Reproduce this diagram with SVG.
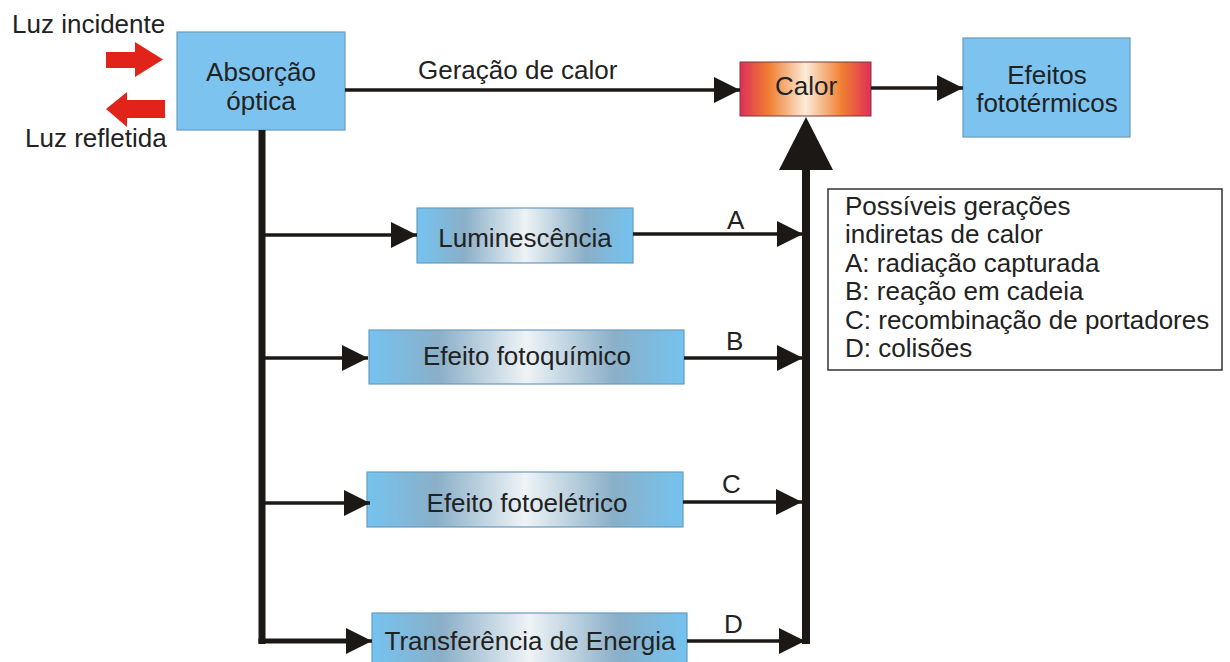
<svg xmlns="http://www.w3.org/2000/svg" width="1230" height="662" viewBox="0 0 1230 662">
<defs>
<style>
text{font-family:"Liberation Sans",Arial,sans-serif;font-size:26px;fill:#222}
.c{text-anchor:middle}
.solid{fill:#7CC4EF;stroke:#6a9cbc;stroke-width:1.2}
.metal{fill:url(#metal);stroke:#6a9cbc;stroke-width:1.2}
.ln{stroke:#1c1816;stroke-width:3.5;fill:none}
.red{fill:#E2231A}
</style>
<linearGradient id="metal" x1="0" y1="0" x2="1" y2="0">
<stop offset="0" stop-color="#74C3F0"/>
<stop offset="0.22" stop-color="#8AAFC8"/>
<stop offset="0.5" stop-color="#EEF3F6"/>
<stop offset="0.78" stop-color="#8AAFC8"/>
<stop offset="1" stop-color="#74C3F0"/>
</linearGradient>
<linearGradient id="heat" x1="0" y1="0" x2="1" y2="0">
<stop offset="0" stop-color="#E02E5A"/>
<stop offset="0.22" stop-color="#F07E30"/>
<stop offset="0.5" stop-color="#FCEBD8"/>
<stop offset="0.78" stop-color="#F07E30"/>
<stop offset="1" stop-color="#E02E5A"/>
</linearGradient>
<marker id="ah" markerUnits="userSpaceOnUse" markerWidth="27" markerHeight="26" refX="26" refY="13" orient="auto">
<path d="M0,0 L26,13 L0,26 Z" fill="#1c1816"/>
</marker>
</defs>

<g id="light-in">
<polygon class="red" points="106,52 135,52 135,42 163,59.5 135,77 135,68 106,68"/>
<text x="12" y="33">Luz incidente</text>
</g>
<g id="light-out">
<polygon class="red" points="106,109 127,92 127,100 165,100 165,118 127,118 127,127"/>
<text x="25" y="147">Luz refletida</text>
</g>

<g id="absorcao">
<rect class="solid" x="177" y="32" width="168" height="98"/>
<text class="c" x="261" y="81">Absorção</text>
<text class="c" x="261" y="110">óptica</text>
</g>

<g id="calor">
<rect x="740" y="62" width="131" height="54" fill="url(#heat)" stroke="#7a3a3a" stroke-width="1"/>
<text class="c" x="806" y="95">Calor</text>
</g>

<g id="efeitos">
<rect class="solid" x="963" y="38" width="167" height="99"/>
<text class="c" x="1047" y="84">Efeitos</text>
<text class="c" x="1047" y="112">fototérmicos</text>
</g>

<g id="luminescencia">
<rect class="metal" x="417" y="208" width="216" height="55"/>
<text class="c" x="525" y="247">Luminescência</text>
</g>
<g id="fotoquimico">
<rect class="metal" x="369" y="330" width="315" height="54"/>
<text class="c" x="527" y="365">Efeito fotoquímico</text>
</g>
<g id="fotoeletrico">
<rect class="metal" x="367" y="472" width="316" height="55"/>
<text class="c" x="527" y="512">Efeito fotoelétrico</text>
</g>
<g id="transferencia">
<rect class="metal" x="372" y="613" width="315" height="60"/>
<text class="c" x="530" y="650">Transferência de Energia</text>
</g>

<g id="legenda">
<rect x="828" y="189" width="394" height="181" fill="#fff" stroke="#333" stroke-width="1.5"/>
<text x="845" y="215">Possíveis gerações</text>
<text x="845" y="243">indiretas de calor</text>
<text x="845" y="272">A: radiação capturada</text>
<text x="845" y="300">B: reação em cadeia</text>
<text x="845" y="329">C: recombinação de portadores</text>
<text x="845" y="357">D: colisões</text>
</g>

<g id="connectors">
<line class="ln" x1="345" y1="90" x2="740" y2="90" marker-end="url(#ah)"/>
<text x="418" y="79">Geração de calor</text>
<line class="ln" x1="871" y1="88" x2="963" y2="88" marker-end="url(#ah)"/>

<line x1="262" y1="130" x2="262" y2="644" stroke="#1c1816" stroke-width="7"/>
<line class="ln" x1="262" y1="235" x2="417" y2="235" marker-end="url(#ah)"/>
<line class="ln" x1="262" y1="358" x2="368" y2="358" marker-end="url(#ah)"/>
<line class="ln" x1="262" y1="503" x2="370" y2="503" marker-end="url(#ah)"/>
<line x1="258.5" y1="641" x2="350" y2="641" stroke="#1c1816" stroke-width="5"/>
<line class="ln" x1="340" y1="641" x2="372" y2="641" marker-end="url(#ah)"/>

<line class="ln" x1="633" y1="234" x2="803" y2="234" marker-end="url(#ah)"/>
<line class="ln" x1="684" y1="358" x2="803" y2="358" marker-end="url(#ah)"/>
<line class="ln" x1="683" y1="502" x2="802" y2="502" marker-end="url(#ah)"/>
<line class="ln" x1="687" y1="641" x2="805" y2="641" marker-end="url(#ah)"/>
<text x="727" y="229">A</text>
<text x="726" y="350">B</text>
<text x="722" y="493">C</text>
<text x="724" y="633">D</text>

<line x1="806" y1="644" x2="806" y2="168" stroke="#1c1816" stroke-width="8"/>
<polygon points="779,170 833,170 806,117" fill="#1c1816"/>
</g>
</svg>
